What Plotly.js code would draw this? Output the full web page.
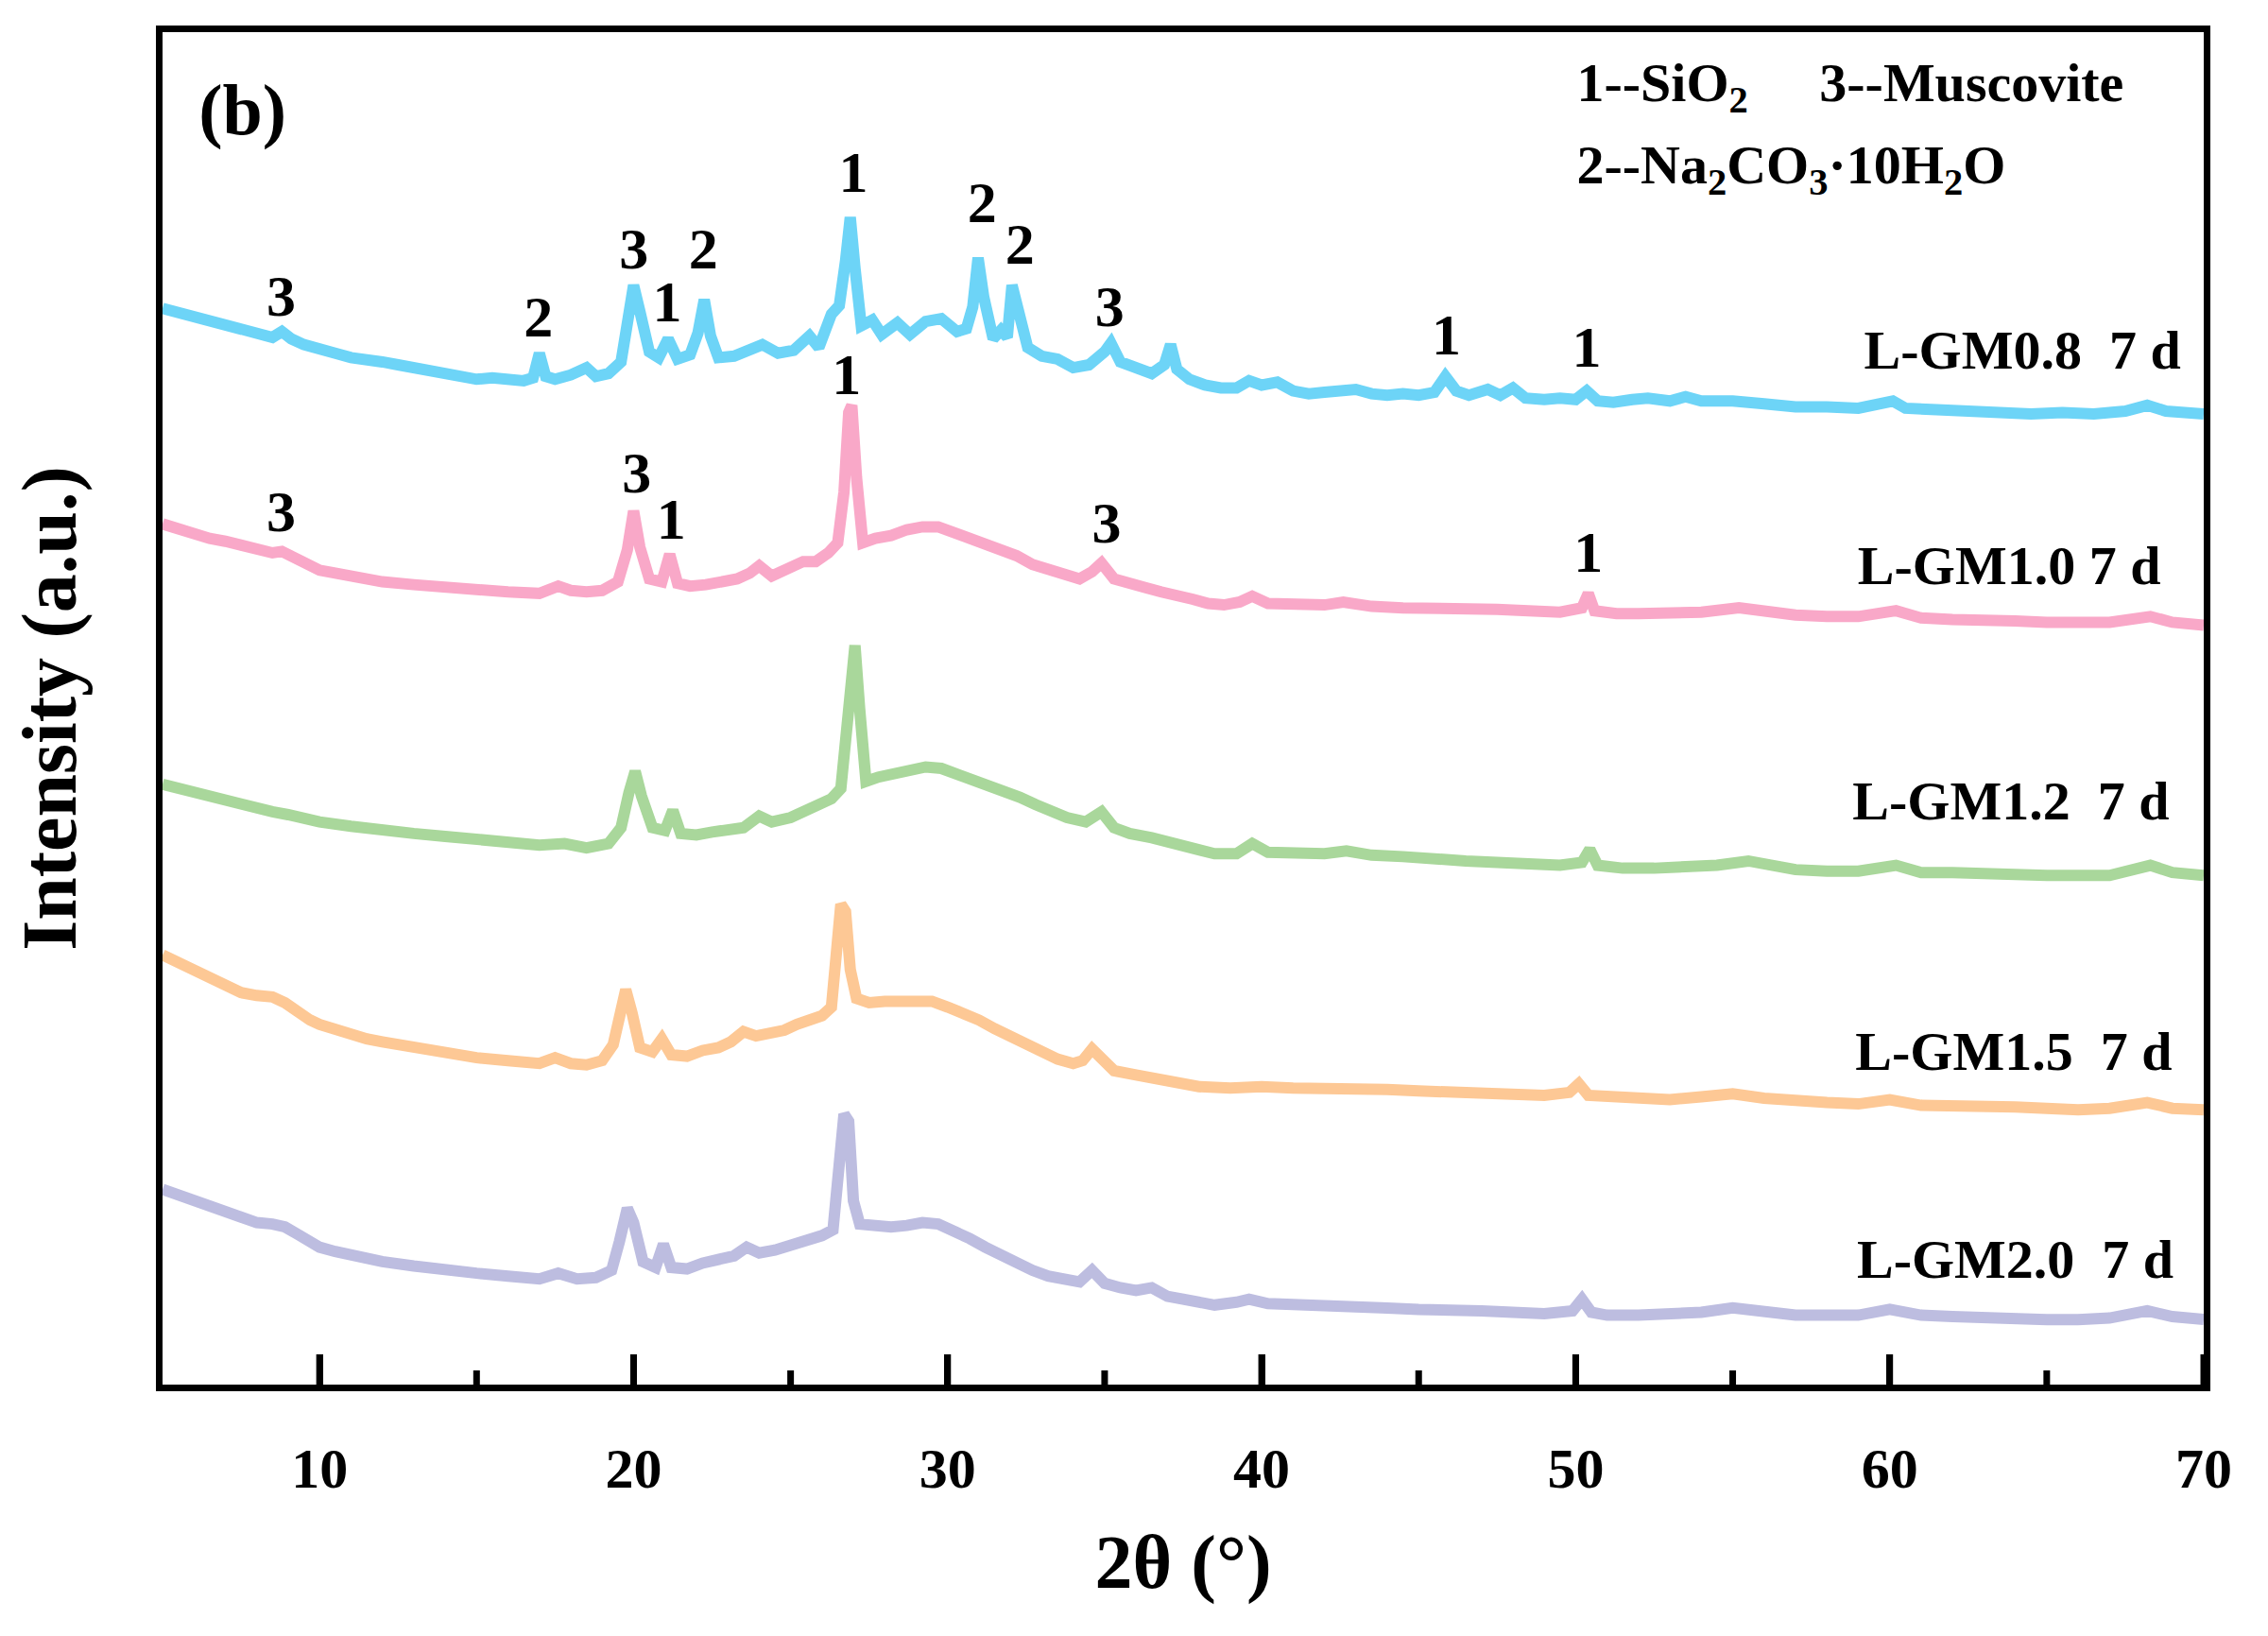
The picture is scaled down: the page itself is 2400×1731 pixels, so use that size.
<!DOCTYPE html>
<html>
<head>
<meta charset="utf-8">
<script src="https://cdn.plot.ly/plotly-3.0.1.min.js"></script>
<style>html,body{margin:0;padding:0;background:#fff;}</style>
</head>
<body>
<div id="chart" style="width:2400px;height:1731px;"></div>
<script>
// ---- Data (2θ in degrees, intensity in arbitrary units, offset stacked) ----
const seriesNames = ["L-GM0.8\u00a0 7 d", "L-GM1.0 7 d", "L-GM1.2\u00a0 7 d", "L-GM1.5\u00a0 7 d", "L-GM2.0\u00a0 7 d"];

const theta08 = [5,5.5,6,6.5,7,7.5,8,8.5,8.8,9.1,9.5,10,10.5,11,11.5,12,12.5,13,13.5,14,14.5,15,15.5,16,16.5,16.8,17,17.2,17.5,18,18.5,18.8,19.2,19.6,19.85,20,20.2,20.5,20.8,21.1,21.4,21.8,22.05,22.25,22.45,22.7,23.2,23.7,24.1,24.6,25.1,25.6,25.9,26.3,26.55,26.75,26.9,27.05,27.25,27.6,27.9,28.4,28.8,29.3,29.8,30.3,30.6,30.8,30.97,31.15,31.45,31.7,31.9,32.05,32.25,32.55,33,33.5,34,34.5,35,35.2,35.5,36,36.5,36.9,37.1,37.3,37.7,38.2,38.7,39.2,39.6,40,40.5,41,41.5,42,42.5,43,43.5,44,44.5,45,45.5,45.85,46.2,46.6,47.2,47.6,48,48.4,49,49.5,50,50.35,50.7,51.2,51.8,52.3,53,53.5,54,55,56,57,58,59,60.1,60.5,61.5,62.5,63.5,64.5,65.5,66.5,67.5,68.2,68.8,69.5,70];
const int08 = [744,741,738,735,733,730,727,724,728,723,719,715,713,710,709,707,705,703,701,699,697,695,696,695,694,696,713,697,695,698,703,697,699,707,742,760,742,714,710,723,709,712,727,750,725,710,711,715,719,713,715,725,717,740,746,777,807,772,732,736,726,734,726,735,737,728,730,745,779,752,723,729,724,760,742,717,711,709,703,705,714,720,707,703,699,705,719,702,695,691,689,689,694,691,693,687,685,686,687,688,685,684,685,684,686,697,687,684,688,684,689,682,681,682,681,687,680,679,681,682,680,683,680,680,678,676,676,675,680,675,674,673,673,671,672,671,673,677,673,672,671];

const theta10 = [5,5.5,6,6.5,7,7.5,8,8.5,8.8,9.2,9.6,10,10.5,11,11.5,12,13,14,15,16,17,17.6,18,18.5,19,19.5,19.8,20,20.2,20.5,20.9,21.15,21.4,21.8,22.3,22.8,23.3,23.7,24,24.4,24.9,25.4,25.8,26.2,26.5,26.7,26.85,26.95,27.1,27.3,27.7,28.2,28.7,29.2,29.7,30.2,30.7,31.2,31.7,32.2,32.7,33.2,33.7,34.2,34.6,34.9,35.3,35.8,36.3,36.8,37.3,37.8,38.3,38.8,39.3,39.7,40.2,41,42,42.6,43.5,44.5,45.5,46.5,47.5,48.5,49.5,50.2,50.4,50.6,51.3,52,53,54,55.2,56,57,58,59,60.2,61,62,63,64,65,66,67,68.3,69,70];
const int10 = [595,591,588,585,583,580,577,575,576,571,566,563,561,559,557,555,553,551,549,548,547,552,549,548,549,555,577,604,579,557,555,574,554,552,553,555,557,561,566,559,563,569,569,575,582,617,672,677,627,582,585,587,591,593,593,589,586,582,578,573,567,563,560,557,562,568,557,553,551,548,546,543,540,539,541,545,540,539,539,541,538,537,537,536,536,535,534,537,547,535,533,533,533,534,537,534,532,531,531,535,530,529,529,528,527,527,527,531,527,525];

const theta12 = [5,5.5,6,6.5,7,7.5,8,8.5,9,9.5,10,11,12,13,14,15,16,17,17.8,18.5,19.2,19.6,19.85,20.05,20.25,20.6,21,21.25,21.5,22,22.5,23,23.5,24,24.4,25,25.5,25.8,26.3,26.6,26.8,26.95,27.05,27.2,27.4,27.8,28.3,28.8,29.3,29.8,30.3,30.8,31.3,31.8,32.3,32.8,33.3,33.8,34.4,34.9,35.3,35.8,36.5,37,37.5,38,38.5,39.2,39.7,40.2,41,42,42.7,43.5,44.5,45.5,46.5,47.5,48.5,49.5,50.2,50.45,50.7,51.5,52.5,53.5,54.5,55.5,56.3,57,58,59,60.2,61,62,63,64,65,66,67,68.3,69,70];
const int12 = [415,412,409,406,404,401,399,396,394,391,389,386,383,381,379,377,375,373,374,371,374,385,409,424,407,385,383,397,381,380,382,383,385,393,389,392,397,401,405,412,457,505,511,467,417,420,423,426,427,426,422,419,416,411,406,401,396,392,389,396,385,381,378,375,372,370,367,367,374,368,367,367,369,366,365,363,362,361,360,359,361,370,359,357,357,358,359,362,358,356,355,355,359,354,354,353,353,352,352,352,359,354,352];

const theta15 = [5,5.5,6,6.5,7,7.5,8,8.5,8.9,9.3,9.7,10,10.5,11,11.5,12,13,14,15,16,17,17.5,18,18.5,19,19.35,19.55,19.75,19.95,20.2,20.6,20.9,21.2,21.7,22.2,22.7,23.1,23.5,23.9,24.3,24.8,25.2,25.6,26,26.3,26.45,26.6,26.75,26.9,27.1,27.5,28,28.5,29,29.5,30,30.5,31,31.5,32,32.5,33,33.5,34,34.3,34.6,34.9,35.3,36,36.5,37,37.5,38,39,40,41,42,43,44,45,46,47,48,49,49.8,50.1,50.4,51,52,53,54,55,56,57,58,59,60,61,62,63,64,65,66,67,68.2,69,70];
const int15 = [297,292,287,281,275,271,269,268,264,257,252,249,245,242,239,237,233,229,226,224,222,226,222,221,224,235,257,273,257,233,230,239,228,227,231,233,237,244,241,242,245,249,252,255,261,297,332,327,287,267,264,265,265,266,265,261,257,252,246,241,235,229,225,222,224,232,225,217,214,212,209,207,206,205,206,205,205,204,204,203,202,202,201,200,202,208,200,199,198,197,199,201,198,196,195,194,197,193,193,192,192,191,190,191,195,191,190];

const theta20 = [5,5.5,6,6.5,7,7.5,8,8.5,8.9,9.3,9.7,10,10.5,11,11.5,12,13,14,15,16,17,17.6,18.2,18.8,19.3,19.55,19.8,20,20.3,20.7,20.95,21.2,21.7,22.2,22.7,23.2,23.6,24,24.5,25,25.5,26,26.35,26.55,26.7,26.85,27,27.2,27.7,28.2,28.7,29.2,29.7,30.2,30.7,31.2,31.7,32.2,32.7,33.2,33.7,34.2,34.6,35,35.5,36,36.5,37,37.5,38,38.5,39.2,39.6,40.2,41,42,43,44,45,46,47,48,49,49.9,50.2,50.5,51,52,53,54,55,56,57,58,59,60,61,62,63,64,65,66,67,68.2,69,70];
const int20 = [135,131,127,123,119,115,112,111,109,104,99,95,92,89,87,85,82,79,77,75,73,77,73,74,79,99,122,112,85,81,97,81,80,84,86,89,95,91,93,96,100,103,107,147,187,182,127,111,110,109,110,112,111,107,101,95,89,84,79,75,72,71,79,70,67,65,67,61,59,57,55,57,59,56,55,55,54,53,52,52,51,50,49,51,59,50,48,48,49,50,53,50,48,48,48,52,48,47,46,46,45,45,46,51,47,45];

const peakLabels = ["3","2","3","1","2","1","2","2","3","1","1","1","3","3","1","3","1"];
const phaseKey = ["1--SiO<sub>2</sub>", "3--Muscovite", "2--Na<sub>2</sub>CO<sub>3</sub>·10H<sub>2</sub>O"];
const panelTag = ["(b)"];
const majorTicks = [10, 20, 30, 40, 50, 60, 70];
const minorTicks = [15, 25, 35, 45, 55, 65];

// ---- Styling ----
const FONT = "Liberation Serif, Times New Roman, serif";
const colors = ["#6dd4f7", "#f9a8c8", "#a9d79b", "#fdc895", "#bdbde0"];
const thetas = [theta08, theta10, theta12, theta15, theta20];
const ints = [int08, int10, int12, int15, int20];
const tf = (s) => ({family: FONT, size: s, color: "#000", weight: "bold"});

const traces = thetas.map((t, i) => ({
  x: t, y: ints[i], type: "scatter", mode: "lines", name: seriesNames[i],
  line: {color: colors[i], width: 12, shape: "linear"}, hoverinfo: "skip"
}));

// Label placement (data coordinates)
const peakPos = [
  [8.78,749],[16.97,735],[20.01,782],[21.07,745],[22.22,782],[27.0,835],[31.1,814],[32.3,785],[35.16,742],[45.88,722],[50.35,714],
  [26.78,695],[8.78,600],[20.1,627],[21.2,595],[35.06,592],[50.4,572]
];
const namePos = [[69.27,712],[68.63,563],[68.9,400],[68.99,227],[69.04,83]];
const keyPos = [[50.03,897],[57.76,897],[50.03,840]];
const tagPos = [[6.15,877]];

const textTrace = (labels, pos, where, size) => ({
  type: "scatter", mode: "text", x: pos.map(p => p[0]), y: pos.map(p => p[1]),
  text: labels, textposition: where, textfont: tf(size), hoverinfo: "skip", cliponaxis: false, showlegend: false
});
traces.push(textTrace(peakLabels, peakPos, "middle center", 62));
traces.push(textTrace(seriesNames, namePos, "middle left", 58));
traces.push(textTrace(phaseKey, keyPos, "middle right", 58));
traces.push(textTrace(panelTag, tagPos, "middle right", 76));

// Inward tick marks drawn as axis-referenced decorations (x from tick values, height in paper fraction)
const PLOT_H = 1731 - 34 - 266;
const tickShape = (v, len) => ({
  type: "line", xref: "x", yref: "paper", x0: v, x1: v, y0: 0, y1: len / PLOT_H,
  line: {color: "#000", width: 7}, layer: "above"
});
const shapes = majorTicks.map(v => tickShape(v, 32)).concat(minorTicks.map(v => tickShape(v, 15)));

const layout = {
  width: 2400, height: 1731,
  margin: {l: 172, r: 68, t: 34, b: 266},
  paper_bgcolor: "#fff", plot_bgcolor: "#fff",
  showlegend: false,
  font: {family: FONT, color: "#000"},
  xaxis: {
    range: [5, 70], tickmode: "array", tickvals: majorTicks,
    ticks: "inside", ticklen: 32, tickwidth: 7, tickcolor: "#000",
    showline: true, linewidth: 7, linecolor: "#000", mirror: true, showgrid: false, zeroline: false,
    tickfont: {family: FONT, size: 60, color: "#000", weight: "bold"}, ticklabelstandoff: 30,
    title: {text: "2θ (°)", font: {family: FONT, size: 80, color: "#000", weight: "bold"}, standoff: 40}
  },
  yaxis: {
    range: [0, 935], showticklabels: false, ticks: "", showgrid: false, zeroline: false,
    showline: true, linewidth: 7, linecolor: "#000", mirror: true,
    title: {text: "Intensity (a.u.)", font: {family: FONT, size: 82, color: "#000", weight: "bold"}, standoff: 60}
  },
  shapes: shapes
};

Plotly.newPlot("chart", traces, layout, {staticPlot: true, displayModeBar: false});
</script>
</body>
</html>
